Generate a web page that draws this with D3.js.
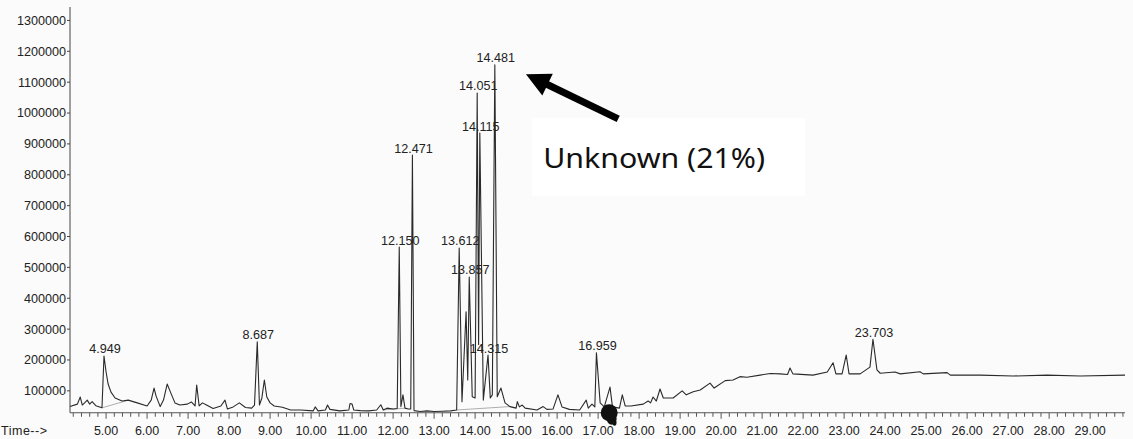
<!DOCTYPE html>
<html>
<head>
<meta charset="utf-8">
<script src="https://cdn.jsdelivr.net/npm/d3@7"></script>
<style>
  html, body { margin: 0; padding: 0; background: #fcfcfc; }
  svg { display: block; }
</style>
</head>
<body>
<script>
// ---- DATA ----
const chromatogram = [
  [4.12, 49000], [4.30, 57000], [4.37, 80000], [4.42, 54000], [4.50, 64000], [4.54, 70000],
  [4.60, 57000], [4.66, 65000], [4.75, 52000], [4.90, 45000], [4.949, 213000], [5.00, 161000],
  [5.05, 122000], [5.12, 96000], [5.22, 77000], [5.39, 67000], [5.54, 70000], [5.76, 61000],
  [6.00, 51000], [6.10, 70000], [6.17, 109000], [6.22, 83000], [6.32, 49000], [6.40, 70000],
  [6.49, 122000], [6.57, 96000], [6.68, 61000], [6.80, 54000], [6.98, 57000], [7.08, 64000],
  [7.17, 51000], [7.21, 119000], [7.27, 51000], [7.35, 61000], [7.45, 54000], [7.61, 43000],
  [7.80, 51000], [7.90, 70000], [7.96, 41000], [8.10, 48000], [8.25, 61000], [8.40, 46000],
  [8.55, 44000], [8.62, 54000], [8.687, 259000], [8.74, 54000], [8.80, 77000], [8.86, 135000],
  [8.92, 80000], [9.00, 61000], [9.10, 51000], [9.30, 47000], [9.50, 38000], [9.75, 38000],
  [10.05, 35000], [10.10, 48000], [10.17, 35000], [10.35, 38000], [10.40, 54000], [10.46, 40000],
  [10.70, 35000], [10.92, 38000], [10.95, 59000], [11.00, 57000], [11.04, 38000], [11.20, 36000],
  [11.40, 35000], [11.60, 38000], [11.70, 55000], [11.76, 38000], [11.85, 44000], [12.00, 41000],
  [12.10, 43000], [12.15, 566000], [12.19, 49000], [12.24, 87000], [12.29, 44000], [12.37, 41000],
  [12.43, 41000], [12.471, 864000], [12.51, 36000], [12.66, 33000], [12.83, 35000], [13.00, 33000],
  [13.20, 34000], [13.40, 35000], [13.55, 38000], [13.612, 563000], [13.68, 65000], [13.78, 356000],
  [13.82, 135000], [13.857, 469000], [13.93, 81000], [14.00, 77000], [14.051, 1065000], [14.085, 250000],
  [14.115, 935000], [14.20, 70000], [14.315, 216000], [14.37, 77000], [14.42, 87000], [14.481, 1156000],
  [14.54, 81000], [14.63, 109000], [14.73, 61000], [14.85, 49000], [15.00, 44000], [15.03, 65000],
  [15.08, 48000], [15.15, 54000], [15.22, 44000], [15.51, 38000], [15.66, 49000], [15.75, 40000],
  [15.90, 41000], [16.02, 87000], [16.12, 48000], [16.30, 40000], [16.55, 38000], [16.71, 70000],
  [16.76, 44000], [16.85, 57000], [16.92, 48000], [16.959, 223000], [17.05, 61000], [17.15, 48000],
  [17.29, 112000], [17.35, 48000], [17.52, 44000], [17.59, 87000], [17.66, 51000], [17.80, 51000],
  [18.10, 57000], [18.22, 67000], [18.28, 61000], [18.34, 80000], [18.42, 67000], [18.51, 106000],
  [18.59, 77000], [18.83, 77000], [19.05, 100000], [19.15, 87000], [19.32, 97000], [19.49, 103000],
  [19.73, 125000], [19.83, 109000], [20.10, 133000], [20.29, 135000], [20.46, 146000], [20.63, 144000],
  [20.95, 151000], [21.20, 156000], [21.44, 155000], [21.62, 153000], [21.68, 174000], [21.75, 155000],
  [22.24, 151000], [22.59, 161000], [22.73, 191000], [22.80, 155000], [22.95, 155000], [23.05, 216000],
  [23.12, 155000], [23.39, 155000], [23.63, 177000], [23.703, 267000], [23.80, 168000], [23.88, 157000],
  [24.24, 161000], [24.37, 155000], [24.85, 162000], [24.93, 155000], [25.51, 159000], [25.59, 151000],
  [26.32, 151000], [27.12, 148000], [27.95, 151000], [28.76, 148000], [29.85, 151000]
];

const peakTimes  = [4.949, 8.687, 12.150, 12.471, 13.612, 13.857, 14.051, 14.115, 14.315, 14.481, 16.959, 23.703];
const peakLabels = ["4.949", "8.687", "12.150", "12.471", "13.612", "13.857", "14.051", "14.115", "14.315", "14.481", "16.959", "23.703"];
const peakHeights = [213000, 259000, 566000, 864000, 563000, 469000, 1065000, 935000, 216000, 1156000, 223000, 267000];

const yTickValues = [100000, 200000, 300000, 400000, 500000, 600000, 700000, 800000, 900000, 1000000, 1100000, 1200000, 1300000];
const xMajorTicks = [5, 6, 7, 8, 9, 10, 11, 12, 13, 14, 15, 16, 17, 18, 19, 20, 21, 22, 23, 24, 25, 26, 27, 28, 29];

const integrationBaselines = [
  [[4.90, 45000], [5.50, 68000]],
  [[11.76, 38000], [12.30, 44000]],
  [[13.55, 38000], [14.85, 49000]]
];

const annotationText = "Unknown (21%)";
const arrowTip = [15.24, 1126000];
const arrowTail = [17.49, 981000];

// ---- LAYOUT ----
const W = 1133, H = 439;
const x = d3.scaleLinear().domain([4.12, 29.85]).range([70, 1125]);
const y = d3.scaleLinear().domain([25000, 1350000]).range([414, 5]);
const axisY = y(29000);

const svg = d3.select("body").append("svg").attr("width", W).attr("height", H);
svg.append("rect").attr("width", W).attr("height", H).attr("fill", "#fbfbfb");

// white annotation box (subtle)
svg.append("rect")
  .attr("x", x(15.39)).attr("y", y(984000))
  .attr("width", x(22.05) - x(15.39)).attr("height", y(731000) - y(984000))
  .attr("fill", "#ffffff");

const font = "'Liberation Sans', Arial, Helvetica, sans-serif";

// Y axis
svg.append("line").attr("x1", 70).attr("x2", 70).attr("y1", 7).attr("y2", axisY)
  .attr("stroke", "#444").attr("stroke-width", 1);
const yt = svg.append("g");
yTickValues.forEach(v => {
  yt.append("line").attr("x1", 67).attr("x2", 70).attr("y1", y(v)).attr("y2", y(v))
    .attr("stroke", "#444").attr("stroke-width", 1);
  yt.append("text").attr("x", 66).attr("y", y(v)).attr("dy", "0.35em")
    .attr("text-anchor", "end").attr("font-family", font).attr("font-size", 12.6)
    .attr("fill", "#222").text(d3.format("d")(v));
});

// X axis
svg.append("line").attr("x1", 70).attr("x2", 1125).attr("y1", axisY).attr("y2", axisY)
  .attr("stroke", "#555").attr("stroke-width", 1);
const minorTicks = d3.range(4.2, 29.85, 0.2);
svg.append("g").selectAll("line").data(minorTicks).join("line")
  .attr("x1", d => x(d)).attr("x2", d => x(d))
  .attr("y1", axisY).attr("y2", d => Math.abs(d - Math.round(d)) < 0.01 ? axisY + 6 : axisY + 4)
  .attr("stroke", "#555").attr("stroke-width", 1);
svg.append("g").selectAll("text").data(xMajorTicks).join("text")
  .attr("x", d => x(d)).attr("y", 435).attr("text-anchor", "middle")
  .attr("font-family", font).attr("font-size", 12.5).attr("fill", "#222")
  .text(d => d.toFixed(2));
svg.append("text").attr("x", 1).attr("y", 435).attr("font-family", font)
  .attr("font-size", 12.5).attr("fill", "#222").attr("textLength", 46).text("Time-->");

// integration baselines
integrationBaselines.forEach(seg => {
  svg.append("line")
    .attr("x1", x(seg[0][0])).attr("y1", y(seg[0][1]))
    .attr("x2", x(seg[1][0])).attr("y2", y(seg[1][1]))
    .attr("stroke", "#999").attr("stroke-width", 0.8);
});

// trace
const line = d3.line().x(d => x(d[0])).y(d => y(d[1]));
svg.append("path").datum(chromatogram).attr("d", line)
  .attr("fill", "none").attr("stroke", "#2a2a2a").attr("stroke-width", 1.1)
  .attr("stroke-linejoin", "round");

// ink blot
const blot = svg.append("g").attr("fill", "#111");
blot.append("ellipse").attr("cx", x(17.27)).attr("cy", axisY).attr("rx", 8.5).attr("ry", 8.5);
blot.append("ellipse").attr("cx", x(17.33)).attr("cy", axisY + 6).attr("rx", 5).attr("ry", 6);
blot.append("ellipse").attr("cx", x(17.40)).attr("cy", axisY + 10).attr("rx", 2).attr("ry", 3);

// peak labels
svg.append("g").selectAll("text").data(peakTimes).join("text")
  .attr("x", (d, i) => x(d) + 1).attr("y", (d, i) => y(peakHeights[i]) - 2.5)
  .attr("text-anchor", "middle").attr("font-family", font).attr("font-size", 12.6)
  .attr("fill", "#222").text((d, i) => peakLabels[i]);

// arrow
const tx = x(arrowTip[0]), ty = y(arrowTip[1]);
const sx = x(arrowTail[0]), sy = y(arrowTail[1]);
const dx = tx - sx, dy = ty - sy, len = Math.hypot(dx, dy);
const ux = dx / len, uy = dy / len, px = -uy, py = ux;
const headLen = 24, headHalf = 12;
const bx = tx - ux * headLen, by = ty - uy * headLen;
svg.append("line").attr("x1", sx).attr("y1", sy).attr("x2", bx + ux * 2).attr("y2", by + uy * 2)
  .attr("stroke", "#000").attr("stroke-width", 7);
svg.append("path")
  .attr("d", `M${tx},${ty}L${bx + px * headHalf},${by + py * headHalf}L${bx - px * headHalf},${by - py * headHalf}Z`)
  .attr("fill", "#000");

// annotation text
svg.append("text").attr("x", x(15.66)).attr("y", y(822000))
  .attr("font-family", "'Noto Sans', 'Open Sans', sans-serif").attr("font-size", 28)
  .attr("fill", "#111").attr("textLength", 222).attr("lengthAdjust", "spacingAndGlyphs")
  .text(annotationText);
</script>
</body>
</html>
